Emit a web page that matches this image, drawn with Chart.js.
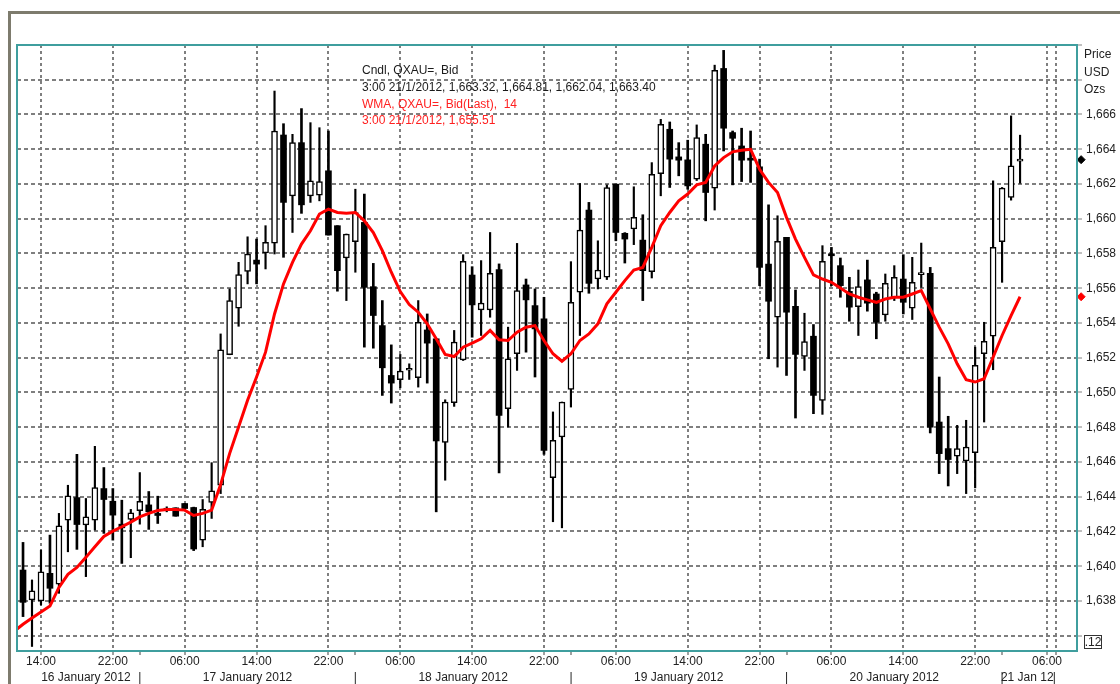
<!DOCTYPE html>
<html><head><meta charset="utf-8">
<script src="https://cdn.jsdelivr.net/npm/chart.js@4.4.1/dist/chart.umd.min.js"></script>
<style>html,body{margin:0;padding:0;background:#fff;}#wrap{position:relative;width:1120px;height:684px;}</style>
</head><body><div id="wrap"><canvas id="c" width="1120" height="684"></canvas></div>
<script>
// hours counted from 06:00 16 January 2012; first candle = 12:00 16 Jan, last = 03:00 21 Jan
const FIRST_HOUR = 6;
const openP = [1639.78,1638.06,1638.00,1639.59,1638.96,1642.65,1643.95,1642.37,1642.65,1644.47,1643.74,1642.42,1642.69,1643.19,1643.53,1643.04,1643.23,1643.36,1643.61,1643.38,1641.50,1643.67,
1644.66,1652.17,1654.85,1656.97,1657.62,1658.03,1658.60,1664.82,1661.32,1664.38,1661.32,1661.36,1662.76,1659.60,1657.74,1658.68,1659.79,1656.09,1653.85,1650.98,
1650.73,1651.28,1650.85,1653.60,1653.09,1647.13,1649.41,1651.88,1656.76,1654.75,1654.75,1657.07,1649.07,1652.23,1656.19,1655.00,1654.24,1645.10,1647.44,1650.18,1655.77,1660.50,1656.53,
1656.63,1661.99,1659.16,1659.41,1658.77,1656.95,1662.60,1665.15,1663.56,1663.39,1662.28,1664.29,1661.76,1668.65,1664.96,1664.19,1663.40,1662.99,1657.39,1654.33,1658.93,1654.96,1652.07,1653.24,
1649.55,1657.97,1657.30,1655.82,1654.94,1656.48,1655.67,1654.47,1655.48,1656.53,1654.85,1656.78,1656.86,1648.30,1646.77,1646.33,1646.06,1646.54,1652.23,1653.24,1658.68,1661.22,1663.32];
const highP = [1641.37,1639.21,1640.93,1641.79,1643.04,1644.66,1646.44,1643.90,1646.90,1645.68,1644.47,1643.80,1643.27,1645.39,1644.30,1644.03,1643.42,1643.36,1643.61,1643.40,1643.84,1645.96,
1653.37,1655.96,1657.49,1658.96,1658.83,1659.60,1667.35,1665.47,1664.86,1666.34,1665.53,1665.24,1665.05,1659.60,1659.12,1661.70,1661.42,1657.43,1655.29,1652.74,
1652.19,1651.65,1655.29,1654.52,1653.10,1649.58,1653.57,1657.93,1657.24,1657.59,1659.21,1657.40,1653.76,1658.58,1656.53,1655.96,1655.48,1648.88,1649.45,1657.53,1662.03,1660.94,1658.73,
1661.95,1662.00,1659.20,1661.84,1660.23,1663.23,1665.72,1665.57,1664.38,1664.52,1665.40,1664.86,1668.84,1669.69,1665.05,1665.21,1665.05,1663.43,1660.80,1660.17,1658.93,1655.90,1654.56,1653.91,
1658.45,1658.35,1657.74,1656.63,1657.05,1657.62,1655.77,1656.82,1657.30,1657.93,1657.78,1658.60,1657.20,1650.89,1648.63,1648.11,1648.40,1652.61,1654.04,1662.18,1661.80,1665.92,1664.81];
const lowP = [1637.10,1635.38,1637.77,1637.87,1638.44,1640.83,1640.97,1639.40,1642.08,1641.89,1641.50,1640.16,1640.49,1642.42,1642.12,1642.46,1643.13,1642.88,1643.32,1640.90,1641.12,1642.75,
1644.18,1652.17,1653.81,1656.25,1656.25,1657.11,1657.97,1657.78,1659.21,1660.31,1660.94,1661.03,1659.06,1655.83,1655.29,1656.92,1652.61,1652.55,1649.83,1649.39,
1650.27,1650.75,1650.31,1650.54,1643.13,1644.95,1649.20,1651.84,1653.18,1653.28,1654.33,1645.37,1648.01,1651.27,1652.32,1650.89,1646.44,1642.56,1642.21,1649.16,1653.28,1655.71,1655.96,
1656.50,1658.73,1657.45,1658.51,1655.29,1656.59,1661.32,1661.80,1662.47,1661.70,1662.20,1659.88,1660.50,1663.90,1661.95,1662.14,1662.09,1656.15,1651.94,1651.46,1650.98,1648.53,1651.27,1648.78,
1648.74,1656.15,1655.48,1654.10,1653.28,1654.68,1653.09,1654.10,1655.29,1654.52,1654.20,1656.05,1647.67,1645.33,1644.62,1645.33,1644.18,1644.51,1648.30,1651.31,1656.34,1661.07,1662.04];
const closeP = [1637.92,1638.59,1639.68,1638.73,1642.33,1644.05,1642.40,1642.84,1644.53,1643.84,1642.94,1642.21,1643.07,1643.74,1643.13,1642.92,1643.28,1642.88,1643.32,1640.99,1643.28,1644.34,
1652.46,1655.29,1656.78,1657.97,1657.39,1658.64,1665.05,1660.94,1664.38,1660.80,1662.18,1662.14,1659.06,1657.01,1659.12,1660.36,1656.05,1654.43,1651.42,1650.54,
1651.23,1651.32,1654.04,1652.84,1647.21,1649.45,1652.90,1657.55,1655.04,1655.14,1656.86,1648.68,1651.94,1655.86,1655.33,1653.66,1646.67,1647.25,1649.45,1655.19,1659.35,1656.28,1657.05,
1661.80,1659.21,1658.83,1660.08,1657.01,1662.56,1665.44,1663.43,1663.37,1661.89,1664.67,1661.51,1668.54,1665.21,1664.63,1663.37,1663.37,1657.20,1655.25,1658.70,1654.62,1652.19,1652.93,1649.83,
1657.55,1657.87,1656.15,1654.91,1656.09,1655.14,1654.04,1656.28,1656.63,1655.19,1656.34,1656.80,1648.01,1646.48,1646.14,1646.77,1646.86,1651.56,1652.95,1658.35,1661.76,1663.04,1663.40];
// WMA(14), starting one hour before the first visible candle
const WMA_FIRST_HOUR = 5;
const wmaValues = [1636.25,1636.66,1637.02,1637.37,1637.71,1638.78,1639.53,1639.93,1640.51,1641.12,1641.71,1642.02,1642.27,1642.54,1642.84,1643.04,1643.21,1643.27,1643.27,1643.23,1642.92,1643.04,1643.23,
1644.70,1646.48,1648.01,1649.55,1650.89,1652.32,1654.52,1656.25,1657.49,1658.54,1659.31,1660.27,1660.55,1660.36,1660.32,1660.36,1659.88,1659.21,1658.16,1656.92,
1655.81,1655.06,1654.62,1653.95,1653.09,1652.19,1652.07,1652.61,1652.84,1653.09,1653.57,1653.03,1652.99,1653.47,1653.76,1653.85,1652.99,1652.23,1651.80,1652.23,1652.99,1653.37,1653.95,
1655.10,1655.77,1656.44,1657.05,1657.20,1658.35,1659.60,1660.36,1661.03,1661.42,1661.95,1662.09,1663.04,1663.52,1663.85,1663.94,1664.00,1662.85,1662.09,1661.51,1660.08,1658.83,1657.78,1656.77,
1656.53,1656.34,1656.02,1655.67,1655.48,1655.33,1655.19,1655.38,1655.48,1655.48,1655.67,1655.86,1654.81,1653.76,1652.80,1651.65,1650.73,1650.60,1650.79,1652.03,1653.28,1654.43,1655.51];

const timeTickHours = [8,16,24,32,40,48,56,64,72,80,88,96,104,112,120];
const extraGridHours = [121];
const daySeparatorHours = [19,43,67,91,115];
const dateLabelHours = [13,19,31,43,55,67,79,91,103,115,117.8,120.8];
const dateLabelTexts = ['16 January 2012','|','17 January 2012','|','18 January 2012','|','19 January 2012','|','20 January 2012','|','21 Jan 12','|'];
const priceAxisTitle = ['Price','USD','Ozs'];
const legendLines = [
  {t:'Cndl, QXAU=, Bid', c:'#1a1a1a'},
  {t:'3:00 21/1/2012, 1,663.32, 1,664.81, 1,662.04, 1,663.40', c:'#1a1a1a'},
  {t:'WMA, QXAU=, Bid(Last),  14', c:'#ff2020'},
  {t:'3:00 21/1/2012, 1,655.51', c:'#ff2020'}
];
const yearBoxText = '.12';
const MARKER_HOUR = 123.8;

const FONT = "'Liberation Sans', Arial, sans-serif";
const hours = openP.map((_, i) => FIRST_HOUR + i);
const isUp = i => closeP[i] >= openP[i];
const bodies = hours.map((h, i) => ({x: h, y: [openP[i], closeP[i]]}));
const upWicks = [], downWicks = [];
hours.forEach((h, i) => { (isUp(i) ? upWicks : downWicks).push({x: h, y: [lowP[i], highP[i]]}); });
const wmaData = wmaValues.map((v, i) => ({x: WMA_FIRST_HOUR + i, y: v}));
const lastIdx = closeP.length - 1;

const XMIN = 5.33, XMAX = 123.34;
const pad2 = n => (n < 10 ? '0' : '') + n;

const decor = {
  id: 'decor',
  beforeDraw(chart) {
    const c = chart.ctx;
    c.save();
    c.fillStyle = '#fff';
    c.fillRect(0, 0, chart.width, chart.height);
    c.fillStyle = '#7d7b6d';
    c.fillRect(8, 11, 3, chart.height - 11);
    c.fillRect(8, 11, chart.width - 8, 3);
    c.restore();
  },
  afterDraw(chart) {
    const c = chart.ctx, a = chart.chartArea;
    c.save();
    c.strokeStyle = '#3f9e9e';
    c.lineWidth = 2;
    c.strokeRect(a.left, a.top, a.right - a.left, a.bottom - a.top);
    c.font = '12px ' + FONT;
    c.textBaseline = 'middle';
    c.textAlign = 'left';
    const ly = [71, 88, 105, 121];
    legendLines.forEach((l, i) => { c.fillStyle = l.c; c.fillText(l.t, 362, ly[i]); });
    c.fillStyle = '#222';
    const ty = [55, 72.5, 90];
    priceAxisTitle.forEach((t, i) => c.fillText(t, 1084, ty[i]));
    c.strokeStyle = '#333';
    c.lineWidth = 1;
    c.strokeRect(1084.5, 635.5, 17, 13);
    c.textAlign = 'center';
    c.fillText(yearBoxText, 1093, 642.5);
    c.restore();
  }
};

new Chart(document.getElementById('c'), {
  type: 'bar',
  data: {
    datasets: [
      {type: 'line', data: wmaData, borderColor: '#ff0000', borderWidth: 3, pointRadius: 0, tension: 0, order: 0, xAxisID: 'x', yAxisID: 'y'},
      {type: 'line', data: [{x: MARKER_HOUR, y: closeP[lastIdx]}], showLine: false, pointStyle: 'rectRot', pointRadius: 4, pointHoverRadius: 8, pointBorderWidth: 1, pointBackgroundColor: '#000', pointBorderColor: '#000', clip: false, order: 0},
      {type: 'line', data: [{x: MARKER_HOUR, y: wmaValues[wmaValues.length - 1]}], showLine: false, pointStyle: 'rectRot', pointRadius: 4, pointHoverRadius: 8, pointBorderWidth: 1, pointBackgroundColor: '#ff0000', pointBorderColor: '#ff0000', clip: false, order: 0},
      {data: bodies, grouped: false, barThickness: 6, minBarLength: 2, borderSkipped: false, order: 1,
        backgroundColor: ctx => isUp(ctx.dataIndex) ? '#ffffff' : '#000000',
        borderColor: '#000000',
        borderWidth: ctx => isUp(ctx.dataIndex) ? 1.5 : 0},
      {data: upWicks, grouped: false, barThickness: 1.5, backgroundColor: '#000', borderWidth: 0, order: 2},
      {data: downWicks, grouped: false, barThickness: 2, backgroundColor: '#000', borderWidth: 0, order: 2}
    ]
  },
  options: {
    responsive: false, animation: false, devicePixelRatio: 1,
    layout: {padding: {left: 17, top: 45, right: 0, bottom: 0}},
    plugins: {legend: {display: false}, tooltip: {enabled: false}},
    events: [],
    scales: {
      x: {
        type: 'linear', position: 'bottom', min: XMIN, max: XMAX, offset: false,
        afterBuildTicks: s => { s.ticks = timeTickHours.concat(extraGridHours, daySeparatorHours).sort((a, b) => a - b).map(v => ({value: v})); },
        afterFit: s => { s.height = 16; },
        grid: {offset: false, lineWidth: 2, tickLength: 4, tickWidth: 1.5, tickColor: '#808080', tickBorderDash: [],
          color: ctx => (ctx.tick && daySeparatorHours.includes(ctx.tick.value)) ? 'rgba(0,0,0,0)' : '#7f7f7f'},
        border: {display: false, dash: [3, 3]},
        ticks: {autoSkip: false, maxRotation: 0, padding: -1, color: '#222', font: {family: FONT, size: 12},
          callback: v => timeTickHours.includes(v) ? pad2((FIRST_HOUR + v) % 24) + ':00' : ''}
      },
      x2: {
        type: 'linear', position: 'bottom', min: XMIN, max: XMAX, offset: false,
        afterBuildTicks: s => { s.ticks = dateLabelHours.map(v => ({value: v})); },
        afterFit: s => { s.height = 17; },
        grid: {display: false, drawTicks: false},
        border: {display: false},
        ticks: {autoSkip: false, maxRotation: 0, padding: 3, color: '#222', font: {family: FONT, size: 12},
          callback: (v, i) => dateLabelTexts[i]}
      },
      y: {
        type: 'linear', position: 'right', min: 1635.12, max: 1670, beginAtZero: false,
        afterFit: s => { s.width = 43; },
        grid: {lineWidth: 2, color: '#7f7f7f', tickLength: 5, tickWidth: 1, tickColor: '#808080', tickBorderDash: []},
        border: {display: false, dash: [4, 3]},
        ticks: {stepSize: 2, includeBounds: false, padding: 4, color: '#222', font: {family: FONT, size: 12},
          callback: v => (v < 1637 || v > 1667) ? '' : v.toLocaleString('en-US')}
      }
    }
  },
  plugins: [decor]
});
</script></body></html>
